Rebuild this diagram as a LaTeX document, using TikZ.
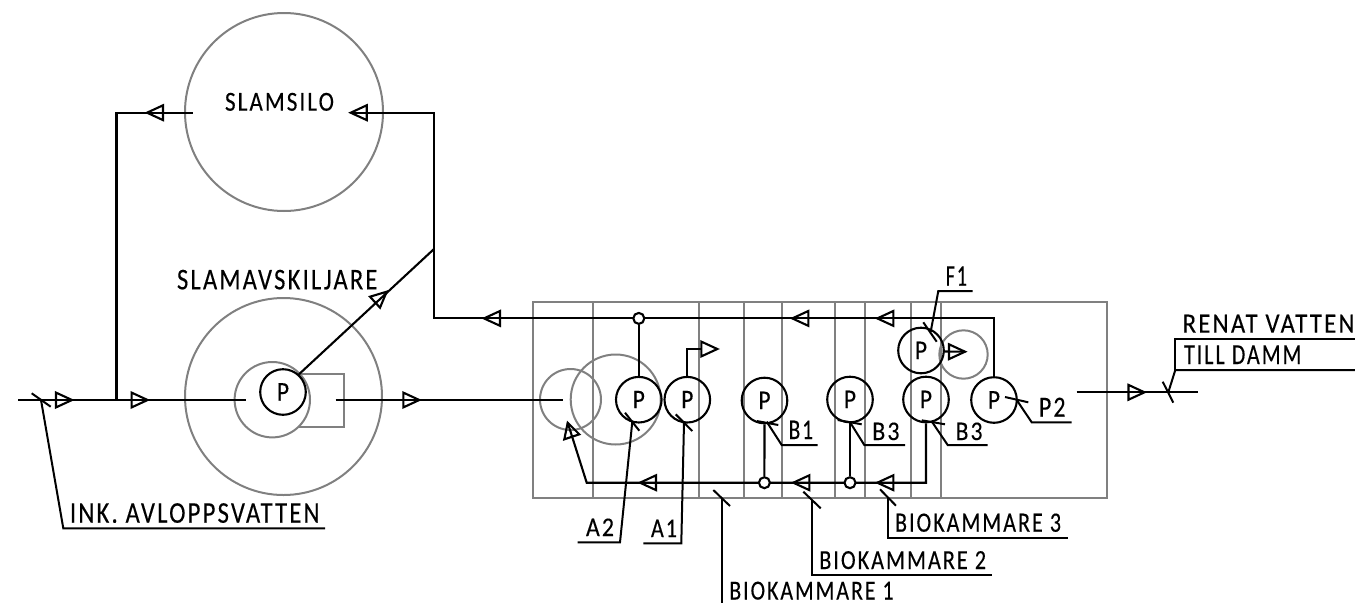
\documentclass[tikz,border=0pt]{standalone}
\usepackage{fontspec}
\setmainfont{Carlito}[LetterSpace=9,FakeBold=0.3]
\usepackage{graphicx}
\definecolor{tank}{RGB}{128,128,128}
\newcommand{\lab}[6]{% name, x left, x right, y base, cap height, text
  \pgfmathsetlengthmacro{\labw}{#3-#2}%
  \pgfmathsetlengthmacro{\labh}{#5}%
  \node[txt] (#1) at (#2,#4) {\resizebox{\labw}{\labh}{\raisebox{0pt}[0.632em][0pt]{#6}}};}
\tikzset{
  pipe/.style={draw=black,line width=2.1pt},
  lead/.style={draw=black,line width=2pt},
  wall/.style={draw=tank,line width=2pt},
  tankc/.style={circle,draw=tank,line width=2pt,inner sep=0pt,minimum size=#1},
  pump/.style={circle,draw=black,line width=2.1pt,inner sep=0pt,minimum size=45.6pt},
  junc/.style={circle,draw=black,fill=white,line width=2.1pt,inner sep=0pt,minimum size=11pt},
  txt/.style={anchor=south west,inner sep=0pt,outer sep=0pt},
  opentri/.pic={\draw[pipe] (0,0) -- (16,7.4) -- (16,-7.4) -- cycle;},
}
\newcommand{\ptxt}{\resizebox{12pt}{17pt}{\raisebox{0pt}[0.632em][0pt]{P}}}
\begin{document}
\begin{tikzpicture}[x=1pt,y=-1pt]
\useasboundingbox (0,0) rectangle (1355,603);
% biological basin walls
\draw[wall] (532.7,301.7) rectangle (1106.7,498.3);
\foreach \x in {593.3,699,744,782.3,835,865.3,910.7,941.3}
  \draw[wall] (\x,301.7) -- (\x,498.3);
% tanks
\node[tankc=198pt] (silo) at (284,112) {};
\node[tankc=197pt] (sep) at (283.5,396.5) {};
\node[tankc=75.4pt] (sepin) at (272.3,399.7) {};
\draw[wall] (300,374) -- (344,374) -- (344,426.5) -- (298,426.5);
\node[tankc=61pt] (t1) at (570.5,399.5) {};
\node[tankc=90pt] (t2) at (615.7,399.5) {};
\node[tankc=48.4pt] (t3) at (963.5,354.5) {};
% pumps
\node[pump] (p0) at (283,392) {\ptxt};
\node[pump] (pA2) at (638.8,399.7) {\ptxt};
\node[pump] (pA1) at (687.3,399.7) {\ptxt};
\node[pump] (pB1) at (764.5,400.5) {\ptxt};
\node[pump] (pB3a) at (850,399.5) {\ptxt};
\node[pump] (pB3b) at (926,399.5) {\ptxt};
\node[pump] (pP2) at (994,400) {\ptxt};
\node[pump] (pF1) at (921,350.5) {\ptxt};
% junctions and pipe points
\coordinate (inl) at (18,400);
\coordinate (inr) at (246,400);
\coordinate (branch) at (116.5,400);
\coordinate (topl) at (116.5,112.7);
\coordinate (silol) at (192.7,112.7);
\coordinate (silor) at (350.7,112.7);
\coordinate (risetop) at (434,112.7);
\coordinate (rise) at (434,249);
\coordinate (riselow) at (434,318.4);
\coordinate (upr) at (994,318.4);
\coordinate (midl) at (335.7,400);
\coordinate (midr) at (563,400);
\coordinate (lowr) at (926,482.7);
\coordinate (lowl) at (586.7,482.7);
\coordinate (a1up) at (687.3,349);
\coordinate (a1end) at (701,349);
\coordinate (outl) at (1076.7,392.3);
\coordinate (outr) at (1198.3,392.3);
% pipes
\draw[pipe] (inl) -- (inr);
\draw[pipe] (branch) -- (topl) -- (silol);
\draw[pipe] (silor) -- (risetop) -- (riselow) -- (upr) -- (pP2.north);
\draw[pipe] (p0.48) -- (rise);
\draw[pipe] (midl) -- (midr);
\draw[pipe] (pB3b.south) -- (lowr) -- (lowl) -- (567.7,422.7);
\draw[pipe] (pA1.north) -- (a1up) -- (a1end);
\draw[pipe] (pF1.east) ++(-1,1) -- (965,351.7);
\draw[pipe] (outl) -- (outr);
\node[junc] (jA) at (638.8,318.4) {};
\node[junc] (jB1) at (764.4,482.7) {};
\node[junc] (jB3) at (850,482.7) {};
\draw[pipe] (jA) -- (pA2.north);
\draw[pipe] (jB1) -- (pB1.south);
\draw[pipe] (jB3) -- (pB3a.south);
% flow arrows
\foreach \x/\y/\r in {72/400/180,147.6/400/180,419.3/400/180,1144.5/392.3/180,717.3/349/180,965/351.7/180,
   147/112.7/0,350.7/112.7/0,484/318.4/0,792.3/318.4/0,877.3/318.4/0,640/482.7/0,793.3/482.7/0,877.3/482.7/0}
  \pic[rotate=\r,yscale=-1] at (\x,\y) {opentri};
\draw[pipe] (386.7,291.7) -- (370,296.7) -- (380,307.7) -- cycle;
\draw[pipe] (567.7,422.7) -- (564.3,439.3) -- (579.3,434.3) -- cycle;
% leader lines
\draw[lead] (31.7,393.3) -- (50.7,406.7);
\draw[lead] (41,400) -- (63.3,528.3) -- (325,528.3);
\draw[lead] (625,412.7) -- (639.3,430.7);
\draw[lead] (632.3,421.7) -- (620,542.3) -- (577.7,542.3);
\draw[lead] (675.7,414.3) -- (692.3,431);
\draw[lead] (684,422.7) -- (681.3,543.3) -- (643.3,543.3);
\draw[lead] (756.7,421) -- (778.3,425);
\draw[lead] (766.7,421.7) -- (781.7,445) -- (817.7,445);
\draw[lead] (837.7,420) -- (861.7,424.3);
\draw[lead] (850.7,423.3) -- (864.3,445) -- (905,445);
\draw[lead] (921.7,420.3) -- (945,424.3);
\draw[lead] (932.3,422.3) -- (947.7,445) -- (987.7,445);
\draw[lead] (1005,397) -- (1028.3,402.3);
\draw[lead] (1016.7,400) -- (1031.7,422.3) -- (1071.7,422.3);
\draw[lead] (923.3,322.3) -- (936.7,341.7);
\draw[lead] (930.7,331.7) -- (938.3,291) -- (972.7,291);
\draw[lead] (1162.7,381.7) -- (1173.3,402.7);
\draw[lead] (1168.3,392.3) -- (1175.3,370) -- (1355,370);
\draw[lead] (1175.3,370) -- (1175.3,339) -- (1355,339);
\draw[lead] (713.3,490) -- (730,506);
\draw[lead] (722,498.3) -- (722,603);
\draw[lead] (803.3,491.7) -- (820.7,508.3);
\draw[lead] (812.3,500) -- (812.3,575) -- (992.3,575);
\draw[lead] (880,489.3) -- (896,505.7);
\draw[lead] (887.7,497.3) -- (887.7,537.7) -- (1067.7,537.7);
% labels
\lab{lsilo}{225}{334}{110.7}{17.4}{SLAMSILO}
\lab{lsep}{177}{377.5}{289.3}{19}{SLAMAVSKILJARE}
\lab{link}{70}{319.5}{522.7}{19}{INK. AVLOPPSVATTEN}
\lab{lA2}{586}{614}{536}{17}{A2}
\lab{lA1}{651}{677}{537}{17}{A1}
\lab{lB1}{788.7}{813}{439}{18}{B1}
\lab{lB3a}{872.3}{899.5}{440}{17}{B3}
\lab{lB3b}{955.7}{982.5}{440}{17}{B3}
\lab{lP2}{1039}{1065.5}{416.7}{18.5}{P2}
\lab{lF1}{945.7}{967}{285.7}{19}{F1}
\lab{lren}{1182.7}{1354.5}{332.7}{17.7}{RENAT VATTEN}
\lab{ltill}{1184}{1301.5}{364}{18.3}{TILL DAMM}
\lab{lb1}{729.3}{893.5}{599.5}{17.4}{BIOKAMMARE 1}
\lab{lb2}{819.3}{986}{569}{17.4}{BIOKAMMARE 2}
\lab{lb3}{895}{1061}{531.7}{17.7}{BIOKAMMARE 3}
\end{tikzpicture}
\end{document}
